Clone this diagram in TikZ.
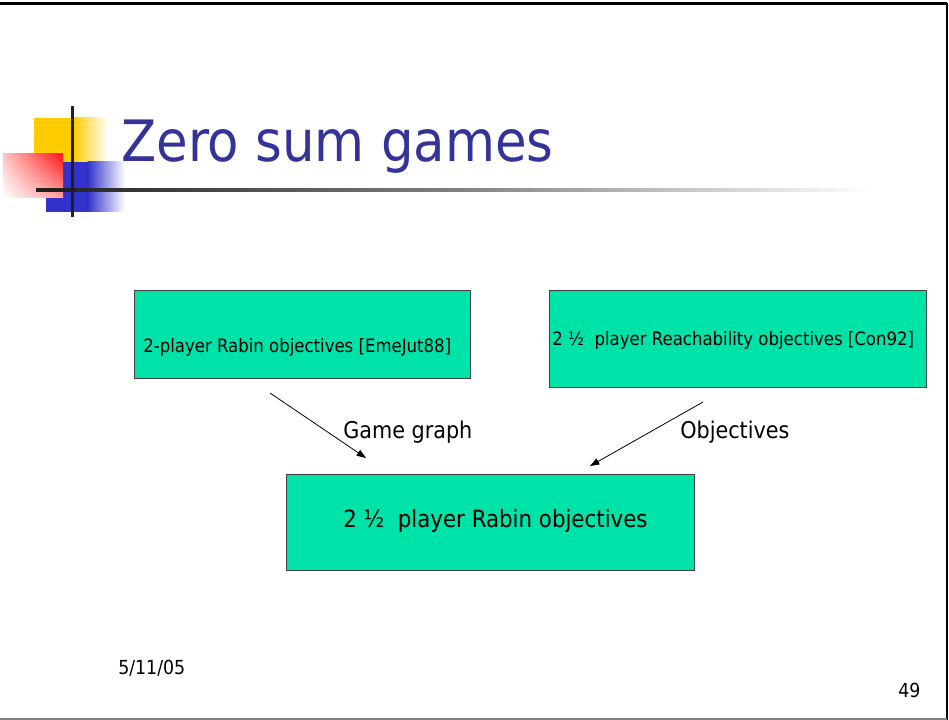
\documentclass[tikz,border=0pt]{standalone}
\usepackage{fontspec}
\setmainfont{DejaVu Sans Condensed}
\usetikzlibrary{arrows.meta,shadings}
\definecolor{titleblue}{RGB}{51,51,153}
\definecolor{boxgreen}{RGB}{0,227,168}
\definecolor{logoyellow}{RGB}{255,204,0}
\definecolor{logoblue}{RGB}{51,51,204}
\definecolor{logored}{RGB}{255,20,20}
\definecolor{rulegray}{RGB}{128,128,128}
\tikzset{
  greenbox/.style={draw=black!75, line width=0.75pt, fill=boxgreen, inner sep=0pt},
  boxtext/.style={font=\fontsize{13.8}{16}\selectfont, anchor=base west, inner sep=0pt},
  bigtext/.style={font=\fontsize{17.8}{20}\selectfont, anchor=base west, inner sep=0pt},
  labeltext/.style={font=\fontsize{17.3}{20}\selectfont, anchor=base west, inner sep=0pt},
  footer/.style={font=\fontsize{14.5}{17}\selectfont, anchor=base west, inner sep=0pt},
  feed/.style={line width=0.6pt, -{Triangle[length=7pt,width=5pt]}},
}
\begin{document}
\begin{tikzpicture}[x=0.75pt, y=-0.75pt]
  \useasboundingbox (0,0) rectangle (949,720);
  \fill[white] (0,0) rectangle (949,720);

  % slide frame
  \draw[black, line width=2.2pt] (0,3.5) -- (946.5,3.5);
  \draw[black, line width=1.5pt] (946.5,3.5) -- (946.5,720);
  \draw[rulegray, line width=1.5pt] (0,718.5) -- (946.5,718.5);

  % title ornament
  \fill[logoyellow] (34,118) rectangle (74,162);
  \shade[left color=logoyellow, right color=white] (73.5,118) rectangle (108,162);
  \fill[logoblue] (46,162) rectangle (88,212);
  \shade[left color=logoblue, right color=white] (87.5,162) rectangle (125,212);
  \shade[upper right=logored, lower left=white,
         upper left=logored!25!white, lower right=logored!40!white]
        (3,154) rectangle (63,198);
  \shade[left color=black!88, right color=white, middle color=black!50]
        (36,189) rectangle (870,192);
  \fill[black!88] (36,189) rectangle (76,192);
  \fill[black!88] (70.5,106) rectangle (73.5,217);

  % title
  \node[anchor=base west, inner sep=0pt, text=titleblue,
        font=\fontsize{42.8}{48}\selectfont] (title) at (121,162) {Zero sum games};

  % boxes
  \node[greenbox, minimum width=336*0.75pt, minimum height=88*0.75pt, anchor=north west]
    (rabin2) at (134,290) {};
  \node[boxtext] (rabin2txt) at (143,352) {2-player Rabin objectives [EmeJut88]};

  \node[greenbox, minimum width=377*0.75pt, minimum height=97*0.75pt, anchor=north west]
    (reach) at (549,290) {};
  \node[boxtext] (reachtxt) at (552,345) {2 ½\ \ player Reachability objectives [Con92]};

  \node[greenbox, minimum width=408*0.75pt, minimum height=96*0.75pt, anchor=north west]
    (rabin) at (286,474) {};
  \node[bigtext] (rabintxt) at (343,527) {2 ½\ \ player Rabin objectives};

  % connectors
  \coordinate (a1s) at (270,393);
  \coordinate (a1e) at (366,458);
  \coordinate (a2s) at (703,402);
  \coordinate (a2e) at (590,466);
  \draw[feed] (a1s) -- (a1e);
  \draw[feed] (a2s) -- (a2e);
  \node[labeltext] (lgraph) at (343,438) {Game graph};
  \node[labeltext] (lobj) at (680,438) {Objectives};

  % footer
  \node[footer] (date) at (118,674) {5/11/05};
  \node[footer] (page) at (898,697) {49};
\end{tikzpicture}
\end{document}
